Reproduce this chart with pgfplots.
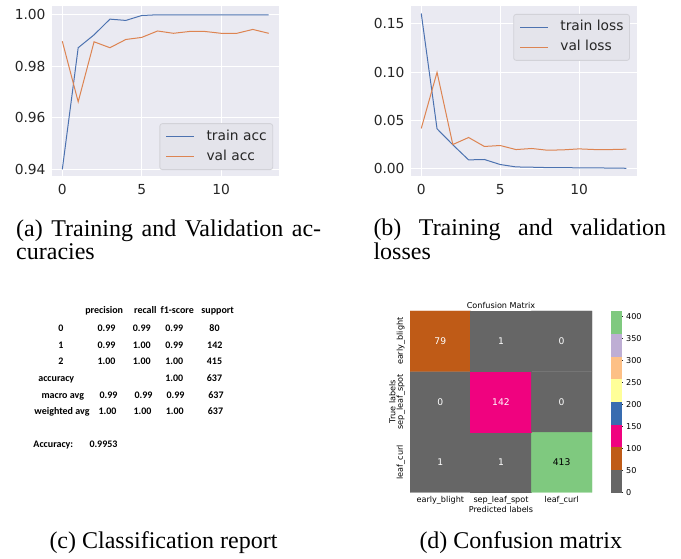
\documentclass[border=0pt]{standalone}
\usepackage{fontspec}
\setmainfont{Liberation Serif}
\newfontfamily\djv{DejaVu Sans}
\newfontfamily\carl{Carlito}
\usepackage{pgfplots}
\pgfplotsset{compat=1.18}
\definecolor{axbg}{HTML}{EAEAF2}
\definecolor{sblue}{HTML}{4C72B0}
\definecolor{sorange}{HTML}{DD8452}
\definecolor{tickc}{HTML}{262626}
\definecolor{legfill}{HTML}{E4E4EB}
\definecolor{legdraw}{HTML}{D2D2D8}
\newcommand\tickfont{\djv\fontsize{13.8pt}{16pt}\selectfont}
\newcommand\smallfont{\djv\fontsize{8.1pt}{10pt}\selectfont}
\newcommand\annfont{\djv\fontsize{9.2pt}{11pt}\selectfont}
\newcommand\repfont{\carl\bfseries\fontsize{10pt}{12pt}\selectfont}
\newcommand\capfont{\fontsize{24pt}{24pt}\selectfont}
\newcommand\rep[3]{\node[anchor=base, inner sep=0pt, font=\repfont] at (#1pt,#2pt) {#3};}
\pgfplotsset{
  sbstyle/.style={
    scale only axis, anchor=south west,
    axis background/.style={fill=axbg},
    grid=major, major grid style={white, line width=1pt},
    axis line style={draw=none}, major tick length=0pt, tick style={draw=none},
    xmin=-0.65, xmax=13.65, xtick={0,5,10},
    scaled y ticks=false,
    /pgf/number format/assume math mode=true,
    ticklabel style={font=\tickfont, text=tickc},
    yticklabel style={anchor=east, inner sep=0pt, xshift=-6.3pt,
      /pgf/number format/fixed, /pgf/number format/fixed zerofill, /pgf/number format/precision=2},
    xticklabel style={anchor=north, inner sep=0pt, yshift=-8.3pt},
    legend cell align=left,
    legend style={font=\tickfont, text=tickc, fill=legfill, draw=legdraw, line width=0.8pt,
      rounded corners=2.5pt, inner xsep=6pt, inner ysep=6.5pt, row sep=7pt,
      nodes={inner sep=0pt, text height=10pt, text depth=3pt},
      /tikz/every odd column/.append style={column sep=11.7pt}},
    legend image code/.code={\draw[##1, line width=1pt] (0pt,0pt) -- (28pt,0pt);},
    every axis plot/.append style={line width=1pt},
  }
}
\begin{document}
\begin{tikzpicture}
\path[use as bounding box] (0pt,0pt) rectangle (681pt,559pt);

% (a) accuracies
\begin{axis}[sbstyle, at={(52pt,383pt)}, width=227pt, height=170pt,
  ymin=0.9374, ymax=1.0034, ytick={0.94,0.96,0.98,1.00},
  legend style={at={(0.974,0.035)}, anchor=south east}]
\addplot[sblue] coordinates {(0,0.940)(1,0.9872)(2,0.9922)(3,0.9983)(4,0.9978)(5,0.9997)(6,1.0)(7,1.0)(8,1.0)(9,1.0)(10,1.0)(11,1.0)(12,1.0)(13,1.0)};
\addlegendentry{train acc}
\addplot[sorange] coordinates {(0,0.9897)(1,0.9662)(2,0.9895)(3,0.9872)(4,0.9904)(5,0.9912)(6,0.9937)(7,0.9928)(8,0.9935)(9,0.9935)(10,0.9928)(11,0.9928)(12,0.9943)(13,0.9928)};
\addlegendentry{val acc}
\end{axis}

% (b) losses
\begin{axis}[sbstyle, at={(411pt,383pt)}, width=225.7pt, height=170pt,
  ymin=-0.0077, ymax=0.1685, ytick={0,0.05,0.10,0.15},
  legend style={at={(0.970,0.953)}, anchor=north east}]
\addplot[sblue] coordinates {(0,0.1607)(1,0.0412)(2,0.0246)(3,0.0090)(4,0.0094)(5,0.0042)(6,0.0017)(7,0.0014)(8,0.0010)(9,0.0009)(10,0.0008)(11,0.0007)(12,0.0005)(13,0.0003)};
\addlegendentry{train loss}
\addplot[sorange] coordinates {(0,0.0416)(1,0.0998)(2,0.0249)(3,0.0322)(4,0.0229)(5,0.0239)(6,0.0197)(7,0.0208)(8,0.0190)(9,0.0194)(10,0.0204)(11,0.0197)(12,0.0197)(13,0.0201)};
\addlegendentry{val loss}
\end{axis}

% (d) confusion matrix
\begin{axis}[at={(410pt,66.5pt)}, anchor=south west, scale only axis, width=182pt, height=181.5pt,
  xmin=-0.5, xmax=2.5, ymin=-0.5, ymax=2.5, enlargelimits=false,
  axis line style={draw=none}, major tick length=0pt, tick style={draw=none},
  xtick={0,1,2}, ytick={0,1,2},
  xticklabels={early\_blight,sep\_leaf\_spot,leaf\_curl},
  yticklabels={leaf\_curl,sep\_leaf\_spot,early\_blight},
  ticklabel style={font=\smallfont, text=black},
  xticklabel style={anchor=center, yshift=-7.5pt},
  yticklabel style={xshift=-9.3pt, rotate=90, anchor=center},
  title={Confusion Matrix},
  title style={at={(0.5,1)}, anchor=center, yshift=-0.7pt, font=\smallfont, inner sep=0pt},
  xlabel={Predicted labels},
  xlabel style={at={(axis description cs:0.5,0)}, anchor=center, yshift=-16.8pt, font=\smallfont, inner sep=0pt},
  ylabel={True labels},
  ylabel style={at={(axis description cs:-0.0973,0.5)}, anchor=center, font=\smallfont, inner sep=0pt},
  colormap={accent}{rgb255=(102,102,102) rgb255=(191,91,23) rgb255=(240,2,127) rgb255=(56,108,176) rgb255=(255,255,153) rgb255=(253,192,134) rgb255=(190,174,212) rgb255=(127,201,127)},
  colormap access=piecewise constant,
  point meta min=0, point meta max=413,
  colorbar,
  colorbar style={at={(parent axis.north east)}, anchor=north west, xshift=10.7pt, width=10.3pt,
    axis line style={draw=none}, ytick={0,50,...,400}, ytick pos=right, tick align=outside,
    major tick length=1.7pt, tick style={draw=black!85, line width=0.6pt},
    /pgf/number format/assume math mode=true,
    yticklabel style={font=\smallfont, text=black, anchor=west, inner sep=0pt, xshift=2.7pt}},
]
\addplot[matrix plot*, mesh/cols=3, point meta=explicit] table[meta=c]{
x y c
0 0 1
1 0 1
2 0 413
0 1 0
1 1 142
2 1 0
0 2 79
1 2 1
2 2 0
};
\addplot[only marks, mark=none, point meta=explicit symbolic, nodes near coords,
  nodes near coords style={anchor=center, font=\annfont, text=white}] table[meta=t]{
x y t
0 2 79
1 2 1
2 2 0
0 1 0
1 1 142
2 1 0
0 0 1
1 0 1
};
\addplot[only marks, mark=none, point meta=explicit symbolic, nodes near coords,
  nodes near coords style={anchor=center, font=\annfont, text=black}] table[meta=t]{
x y t
2 0 413
};
\end{axis}

% (c) classification report
\rep{104.2}{245}{precision}
\rep{145.3}{245}{recall}
\rep{177.3}{245}{f1-score}
\rep{217.7}{245}{support}
\rep{61}{227.3}{0}\rep{106.5}{227.3}{0.99}\rep{141.7}{227.3}{0.99}\rep{174.2}{227.3}{0.99}\rep{214.5}{227.3}{80}
\rep{61}{210.7}{1}\rep{106.5}{210.7}{0.99}\rep{141.7}{210.7}{1.00}\rep{174.2}{210.7}{0.99}\rep{214.8}{210.7}{142}
\rep{61}{194}{2}\rep{106.5}{194}{1.00}\rep{141.7}{194}{1.00}\rep{174.2}{194}{1.00}\rep{214.5}{194}{415}
\rep{56.3}{177.4}{accuracy}\rep{174.2}{177.4}{1.00}\rep{214.5}{177.4}{637}
\rep{62.8}{160.8}{macro avg}\rep{108.5}{160.8}{0.99}\rep{143.5}{160.8}{0.99}\rep{175.5}{160.8}{0.99}\rep{216}{160.8}{637}
\rep{62}{144.2}{weighted avg}\rep{107.5}{144.2}{1.00}\rep{142.5}{144.2}{1.00}\rep{174.8}{144.2}{1.00}\rep{215.5}{144.2}{637}
\node[anchor=base west, inner sep=0pt, font=\repfont] at (33.3pt,111.3pt) {Accuracy:};
\node[anchor=base west, inner sep=0pt, font=\repfont] at (89.3pt,111.3pt) {0.9953};

% captions
\node[anchor=base west, inner sep=0pt, font=\capfont] at (16pt,322.3pt) {\makebox[305pt][s]{(a) Training and Validation ac-}};
\node[anchor=base west, inner sep=0pt, font=\capfont] at (16pt,299pt) {curacies};
\node[anchor=base west, inner sep=0pt, font=\capfont] at (373.3pt,323pt) {\makebox[292.7pt][s]{(b) Training and validation}};
\node[anchor=base west, inner sep=0pt, font=\capfont] at (373.3pt,299pt) {losses};
\node[anchor=base west, inner sep=0pt, font=\capfont] at (49.3pt,10pt) {(c) Classification report};
\node[anchor=base west, inner sep=0pt, font=\capfont] at (419.3pt,10pt) {(d) Confusion matrix};
\end{tikzpicture}
\end{document}
